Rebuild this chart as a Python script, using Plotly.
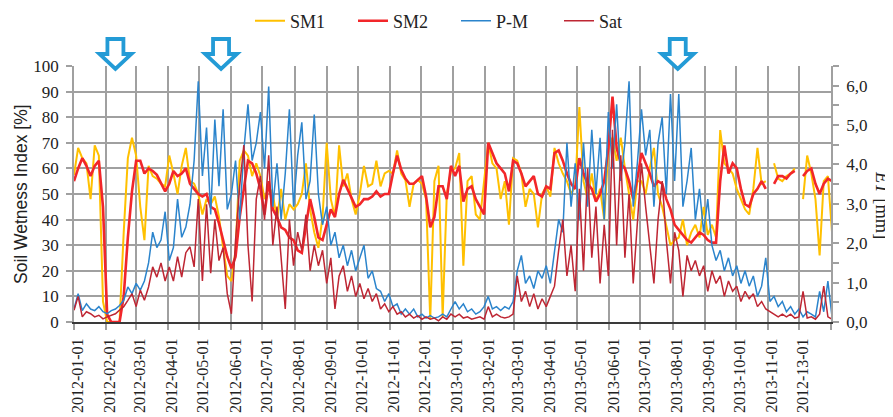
import pandas as pd
import plotly.graph_objects as go

START = "2012-01-01"
END = "2014-01-01"
N_POINTS = 184
dates = pd.date_range(START, periods=N_POINTS, freq="4D")

# Soil wetness index [%]
sm1 = [57.5, 68, 64, 62, 48, 69, 65, 8, 0, 0,
       0, 0, 35, 64, 72, 65, 45, 32, 61, 57,
       56, 54, 53, 65, 58, 50, 61, 68, 55, 54,
       50, 42, 48, 46, 49, 41, 29, 18, 16, 28,
       63, 67, 65, 57, 62, 57, 48, 53, 50, 40,
       52, 40, 46, 44, 46, 50, 62, 44, 35, 29,
       41, 70, 48, 41, 69, 53, 58, 48, 42, 50,
       61, 53, 54, 63, 53, 58, 59, 58, 67, 58,
       55.5, 45, 54, 55.5, 54, 48, 1, 55, 61, 2,
       50, 59, 60, 66, 22, 55, 57, 42, 40, 55,
       70, 62, 60, 48, 55, 38, 64, 63, 58, 45,
       52, 50, 37, 50, 53, 49, 68, 62, 58, 55,
       50, 53, 84, 55, 48, 58, 47, 52, 40, 68,
       72, 63, 72, 60, 50, 40, 55, 55, 50, 60,
       68, 50, 45, 38, 30, 32, 33, 40, 30, 35,
       38, 33, 45, 34, 38, 33, 75, 62, 60, 58,
       52, 48, 44, 42, 52, 68, 54, 55, None, 62,
       56, 55, 57, 58, 60, None, 48, 65, 58, 48,
       26, 55, 57, 35]

sm2 = [55, 60, 64, 61, 57, 61, 63, 45, 3, 0,
       0, 0, 10, 33, 51, 63, 63, 58, 60, 59,
       57.5, 54, 51, 54, 59, 57, 58, 60, 54, 52,
       50, 49, 50, 45, 44, 38.5, 32, 25.5, 21, 25.5,
       41, 53, 63, 62, 58, 52, 42, 55, 44, 41,
       37, 36, 33, 32, 28, 27, 37, 48, 41, 33,
       32, 38.5, 44, 41, 50, 55.5, 52, 48, 45, 46,
       48, 48, 49, 51, 49, 50, 50, 58, 65, 59.5,
       56, 54, 54, 55.5, 57, 49, 37, 41, 53, 53,
       48, 61, 57, 61, 47, 52, 53, 48, 45, 42,
       70, 66, 62, 60, 58, 51, 63, 62, 58, 53,
       55, 57, 50, 49, 53, 52, 66, 67, 63, 58,
       54, 52, 64, 58, 54, 52, 47, 50, 55, 68,
       88, 68, 62, 60, 55, 48, 56, 66, 62, 58,
       53, 55, 54, 48, 44, 38, 36, 34, 32, 31,
       33, 35, 34, 32, 31, 31, 55, 69, 58, 62,
       60, 52, 46, 45, 50, 52, 55, 52, None, 54,
       57, 57, 56, 58, 59, None, 57, 59, 60, 54,
       50, 54, 56, 55]

# Evapotranspiration ET [mm]
pm = [0.33, 0.72, 0.29, 0.46, 0.33, 0.29, 0.39, 0.26, 0.21, 0.29,
      0.33, 0.42, 0.55, 0.89, 0.72, 0.98, 0.81, 1.04, 1.50, 2.28,
      1.89, 2.08, 2.80, 1.56, 1.89, 3.12, 2.15, 2.41, 2.99, 4.10,
      6.11, 3.71, 4.94, 2.73, 5.14, 3.45, 5.40, 2.86, 3.25, 4.10,
      2.60, 4.36, 5.53, 4.10, 4.55, 5.33, 3.90, 5.98, 2.93, 4.03,
      2.60, 3.77, 5.40, 2.93, 4.23, 5.07, 3.12, 3.58, 5.27, 3.25,
      2.47, 2.93, 1.95, 2.28, 1.63, 1.95, 1.43, 1.82, 1.30, 1.63,
      1.95, 1.11, 1.30, 0.85, 0.78, 0.52, 0.72, 0.39, 0.46, 0.20,
      0.33, 0.20, 0.33, 0.13, 0.20, 0.10, 0.16, 0.10, 0.13, 0.20,
      0.13, 0.33,
      0.52, 0.33, 0.46, 0.26, 0.33, 0.20, 0.26, 0.39, 0.65, 0.33,
      0.39, 0.29, 0.39, 0.33, 0.52, 1.30, 1.69, 0.98, 1.17, 0.85,
      1.30, 1.11, 1.43, 0.98, 1.82, 2.60, 2.28, 4.55, 2.93, 4.03,
      2.60, 4.55, 2.93, 4.88, 3.25, 4.68, 2.60, 5.33, 3.90, 5.53,
      3.58, 4.55, 6.11, 2.93, 4.03,
      5.40, 4.23, 4.88, 2.93, 4.55, 5.20, 3.25, 5.79, 3.58, 5.79,
      2.93, 3.58, 4.42, 2.60, 3.38, 2.28, 3.12, 1.95, 1.56, 1.82,
      1.30, 1.63, 1.17, 1.43, 0.98, 1.30, 0.91, 1.17, 0.65, 0.91,
      1.63, 0.52, 0.65, 0.39, 0.52, 0.26, 0.39, 0.20, 0.33, 0.13,
      0.26, 0.20, 0.13, 0.78, 0.26, 1.04, 0.13]

sat = [0.30, 0.65, 0.13, 0.26, 0.21, 0.13, 0.17, 0.08, 0.13, 0.17,
       0.21, 0.30, 0.39, 0.55, 0.72, 0.39, 0.81, 0.55, 0.89, 1.40,
       1.14, 1.50, 1.04, 1.40, 1.04, 1.66, 1.14, 1.76, 1.91, 1.40,
       3.12, 1.04, 2.99, 1.24, 2.60, 1.56, 1.89, 0.72, 0.21, 2.08,
       3.45, 4.49, 1.95, 0.52, 3.12, 3.71,
       2.60, 4.23, 1.95, 2.93, 1.63, 0.33, 2.60, 1.43, 2.28, 1.82,
       2.73, 1.30, 1.95, 1.43, 1.82, 0.98, 1.63, 0.33, 1.17, 1.43,
       0.78, 1.17, 0.65, 0.98, 0.59, 0.85, 0.52, 0.72, 0.33, 0.46,
       0.26, 0.39, 0.20, 0.26, 0.13, 0.20, 0.10, 0.16, 0.07, 0.13,
       0.07, 0.10, 0.03, 0.13, 0.07, 0.20,
       0.13, 0.20, 0.10, 0.13, 0.07, 0.10, 0.13, 0.07, 0.39, 0.13,
       0.20, 0.13, 0.10, 0.13, 0.20, 1.17, 0.52, 0.78, 0.39, 0.72,
       0.33, 0.59, 0.39, 0.65, 0.91, 1.82, 2.60, 1.17, 1.95, 0.78,
       3.38, 1.30, 3.90, 1.63, 2.93, 0.98, 2.47, 1.17, 4.88, 1.95,
       4.23, 1.63, 3.25, 0.98, 2.60,
       4.03, 2.93, 1.95, 0.98, 2.60, 3.58, 2.08, 0.98, 2.28, 1.82,
       0.65, 1.69, 1.30, 1.56, 1.17, 1.43, 0.78, 1.30, 0.98, 1.17,
       0.65, 1.04, 0.78, 0.91, 0.52, 0.78, 0.59, 0.72, 0.39, 0.52,
       0.33, 0.26, 0.20, 0.13, 0.20, 0.13, 0.20, 0.10, 0.13, 0.78,
       0.10, 0.13, 0.07, 0.20, 0.91, 0.13, 0.07]

for arr in (sm1, sm2, pm, sat):
    assert len(arr) == N_POINTS, len(arr)

month_ticks = list(pd.date_range(START, END, freq="MS"))
month_labels = ["2012-01-01", "2012-02-01", "2012-03-01", "2012-04-01", "2012-05-01",
                "2012-06-01", "2012-07-01", "2012-08-01", "2012-09-01", "2012-10-01",
                "2012-11-01", "2012-12-01", "2013-01-01", "2013-02-01", "2013-03-01",
                "2013-04-01", "2013-05-01", "2013-06-01", "2013-07-01", "2013-08-01",
                "2013-09-01", "2013-10-01", "2013-11-01", "2012-13-01", ""]

ARROW_DATES = ["2012-02-10", "2012-05-22", "2013-08-06"]

# ---------------- styling ----------------
C_SM1 = "#FFC000"
C_SM2 = "#F2262A"
C_PM = "#2B84CC"
C_SAT = "#BE2633"
C_ARROW = "#239BD6"
GRID = "#A0A0A0"
SERIF = "Liberation Serif"
SANS = "Liberation Sans"

# the page body adds an 8 px offset; the figure is sized so it fills the window
OFF = 8
W, H = 893 - OFF, 417 - OFF
PLOT_L, PLOT_R, PLOT_T, PLOT_B = 74, 831, 66, 322   # window pixels
ML, MR, MT, MB = PLOT_L - OFF, W - (PLOT_R - OFF), PLOT_T - OFF, H - (PLOT_B - OFF)
PW, PH = W - ML - MR, H - MT - MB


def px(xw):
    return (xw - PLOT_L) / PW


def py(yw):
    return (PLOT_B - yw) / PH


fig = go.Figure()
fig.add_trace(go.Scatter(x=dates, y=sm1, name="SM1", mode="lines",
                         line=dict(color=C_SM1, width=2), yaxis="y"))
fig.add_trace(go.Scatter(x=dates, y=sm2, name="SM2", mode="lines",
                         line=dict(color=C_SM2, width=2.6), yaxis="y"))
fig.add_trace(go.Scatter(x=dates, y=pm, name="P-M", mode="lines",
                         line=dict(color=C_PM, width=1.5), yaxis="y2"))
fig.add_trace(go.Scatter(x=dates, y=sat, name="Sat", mode="lines",
                         line=dict(color=C_SAT, width=1.5), yaxis="y2"))

# hollow down-arrows above the plot
x0 = pd.Timestamp(START)
x1 = pd.Timestamp(END)
ARROW_PTS = [(-8, 39), (8, 39), (8, 54), (16, 54), (0, 69), (-16, 54), (-8, 54)]
shapes = []
for d in ARROW_DATES:
    cx = (pd.Timestamp(d) - x0) / (x1 - x0)
    pts = [(cx + dx / PW, py(yy)) for dx, yy in ARROW_PTS]
    path = "M " + " L ".join(f"{a:.5f},{b:.5f}" for a, b in pts) + " Z"
    shapes.append(dict(type="path", xref="paper", yref="paper", path=path,
                       line=dict(color=C_ARROW, width=3.8), fillcolor="white",
                       layer="above"))

annotations = [
    dict(text="Soil Wetness Index [%]", xref="paper", yref="paper",
         x=px(21), y=py(194), textangle=-90, showarrow=False,
         xanchor="center", yanchor="middle",
         font=dict(family=SANS, size=17.5, color="#222")),
    dict(text="<i>ET</i> [mm]", xref="paper", yref="paper",
         x=px(882), y=py(205), textangle=90, showarrow=False,
         xanchor="center", yanchor="middle", borderpad=0,
         font=dict(family=SERIF, size=18.5, color="#222")),
]

fig.update_layout(
    width=W, height=H,
    margin=dict(l=ML, r=MR, t=MT, b=MB, pad=0, autoexpand=False),
    paper_bgcolor="white", plot_bgcolor="white",
    separators=", ",
    font=dict(family=SERIF, size=17, color="#222"),
    showlegend=True,
    legend=dict(orientation="h", x=px(250), y=py(21),
                xanchor="left", yanchor="middle",
                font=dict(family=SERIF, size=18, color="#222"),
                bgcolor="rgba(0,0,0,0)", entrywidth=58, entrywidthmode="pixels",
                tracegroupgap=0),
    xaxis=dict(type="date", range=[START, END], tickmode="array",
               tickvals=month_ticks, ticktext=month_labels, tickangle=-90,
               showgrid=True, gridcolor=GRID, gridwidth=1.5,
               ticks="outside", ticklen=6, tickcolor=GRID, tickwidth=1.5,
               showline=True, linecolor="#3a3a3a", linewidth=2,
               zeroline=False, ticklabelstandoff=2, ticklabelshift=4,
               automargin=False,
               tickfont=dict(family=SERIF, size=16, color="#222")),
    yaxis=dict(range=[0, 100], tick0=0, dtick=10,
               showgrid=True, gridcolor=GRID, gridwidth=1.5,
               ticks="outside", ticklen=6, tickcolor=GRID, tickwidth=1.5,
               showline=True, linecolor=GRID, linewidth=1.5, zeroline=False,
               ticklabelstandoff=4, automargin=False,
               tickfont=dict(family=SERIF, size=17, color="#222")),
    yaxis2=dict(range=[0, 6.5], overlaying="y", side="right", tick0=0, dtick=1,
                tickformat=".1f", showgrid=False, zeroline=False,
                ticks="outside", ticklen=6, tickcolor=GRID, tickwidth=1.5,
                showline=True, linecolor=GRID, linewidth=1.5,
                ticklabelstandoff=4, automargin=False,
                minor=dict(dtick=0.5, tick0=0, ticks="outside", ticklen=6,
                           tickcolor=GRID, tickwidth=1.5, showgrid=False),
                tickfont=dict(family=SERIF, size=17, color="#222")),
    shapes=shapes,
    annotations=annotations,
)

fig.write_html("out.html")
